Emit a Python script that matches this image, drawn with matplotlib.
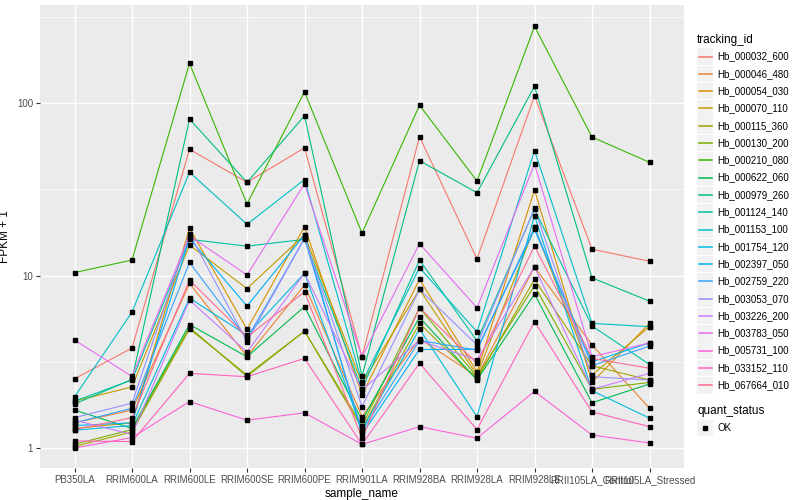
import matplotlib
matplotlib.use("Agg")
import matplotlib.pyplot as plt
from matplotlib.lines import Line2D
from matplotlib.patches import Rectangle
import numpy as np

plt.rcParams['font.family'] = ['Liberation Sans', 'DejaVu Sans']

samples = ["PB350LA", "RRIM600LA", "RRIM600LE", "RRIM600SE", "RRIM600PE",
           "RRIM901LA", "RRIM928BA", "RRIM928LA", "RRIM928LE",
           "RRII105LA_Control", "RRII105LA_Stressed"]

tracking_ids = ["Hb_000032_600", "Hb_000046_480", "Hb_000054_030", "Hb_000070_110",
                "Hb_000115_360", "Hb_000130_200", "Hb_000210_080", "Hb_000622_060",
                "Hb_000979_260", "Hb_001124_140", "Hb_001153_100", "Hb_001754_120",
                "Hb_002397_050", "Hb_002759_220", "Hb_003053_070", "Hb_003226_200",
                "Hb_003783_050", "Hb_005731_100", "Hb_033152_110", "Hb_067664_010"]

colors = ["#F8766D", "#EA8331", "#D89000", "#C09B00", "#A3A500", "#7CAE00",
          "#39B600", "#00BB4E", "#00BF7D", "#00C1A3", "#00BFC4", "#00BAE0",
          "#00B0F6", "#35A2FF", "#9590FF", "#C77CFF", "#E76BF3", "#FA62DB",
          "#FF62BC", "#FF6C91"]

# FPKM + 1, one row per tracking_id, one column per sample
fpkm = [
    [2.52, 3.8, 53.9, 34.7, 55.0, 3.38, 63.8, 12.5, 110, 14.2, 12.1],
    [1.40, 1.66, 9.0, 3.40, 8.8, 1.52, 4.3, 2.60, 11.2, 3.96, 1.70],
    [1.30, 1.40, 18.8, 4.88, 19.2, 2.03, 9.5, 2.77, 31.4, 2.40, 5.28],
    [1.87, 2.26, 15.0, 8.40, 17.2, 2.37, 8.3, 2.65, 19.0, 2.65, 5.05],
    [1.02, 1.24, 4.9, 2.65, 4.76, 1.30, 5.28, 2.50, 9.5, 3.00, 2.48],
    [1.05, 1.28, 5.0, 2.60, 4.76, 1.35, 6.5, 2.59, 8.73, 2.19, 2.40],
    [10.4, 12.3, 170, 26.0, 116, 17.6, 97, 35.3, 278, 63.5, 45.3],
    [1.66, 1.30, 5.2, 3.38, 6.6, 1.45, 5.72, 2.48, 7.8, 1.83, 2.35],
    [1.80, 2.50, 80.7, 34.7, 84.4, 2.61, 46.3, 30.2, 125, 9.7, 7.1],
    [1.87, 2.48, 16.2, 14.8, 16.2, 2.20, 12.3, 4.18, 24.2, 5.10, 3.05],
    [1.98, 6.14, 39.7, 19.8, 36.0, 2.40, 11.1, 4.72, 53.0, 5.28, 5.05],
    [1.27, 1.35, 7.4, 4.50, 10.3, 1.28, 4.89, 1.52, 22.2, 2.15, 1.49],
    [1.35, 1.40, 16.4, 6.65, 17.2, 1.20, 3.73, 3.73, 18.5, 3.16, 4.07],
    [1.40, 1.70, 11.9, 4.30, 16.4, 1.25, 4.2, 3.70, 19.0, 3.00, 3.90],
    [1.50, 1.82, 17.5, 4.14, 16.4, 1.74, 8.3, 3.96, 24.5, 2.59, 2.48],
    [1.45, 1.20, 7.2, 3.60, 10.3, 2.17, 4.2, 3.24, 11.2, 2.19, 2.71],
    [4.23, 2.60, 17.0, 10.07, 34.0, 3.38, 15.3, 6.5, 44.3, 3.38, 4.07],
    [1.00, 1.15, 1.86, 1.45, 1.60, 1.05, 1.33, 1.14, 2.13, 1.19, 1.07],
    [1.10, 1.09, 2.71, 2.59, 3.31, 1.05, 3.1, 1.28, 5.4, 1.62, 1.33],
    [1.28, 1.50, 9.4, 4.40, 8.05, 1.14, 6.5, 3.10, 14.8, 3.31, 2.90],
]

fig = plt.figure(figsize=(8, 5), dpi=100)
ax = fig.add_axes([40/800, 32/500, 644/800, 463/500])
ax.set_facecolor("#EBEBEB")

x = np.arange(len(samples))
for vals, c in zip(fpkm, colors):
    ax.plot(x, vals, color=c, lw=0.8, zorder=3)
for vals in fpkm:
    ax.plot(x, vals, ls="none", marker="s", ms=2.5, color="black", zorder=4)

ax.set_yscale("log")
ax.set_ylim(0.766, 370)
ax.set_xlim(-0.6, len(samples) - 0.4)
ax.set_yticks([1, 10, 100])
ax.set_yticklabels(["1", "10", "100"])
ax.set_yticks([10**0.5, 10**1.5, 10**2.5], minor=True)
ax.yaxis.set_minor_formatter(plt.NullFormatter())
ax.set_xticks(x)
ax.set_xticklabels(samples)

ax.grid(which="major", color="white", lw=1.0, zorder=0)
ax.grid(which="minor", axis="y", color="white", lw=0.5, zorder=0)
ax.set_axisbelow(True)
for s in ax.spines.values():
    s.set_visible(False)
ax.tick_params(which="major", length=3, color="#333333", labelsize=7,
               labelcolor="#4D4D4D", pad=2)
ax.tick_params(which="minor", length=0)

ax.set_xlabel("sample_name", fontsize=8.5, labelpad=2)
ax.set_ylabel("FPKM + 1", fontsize=8.5, labelpad=4)

# legend drawn by hand, ggplot style
def fx(px):
    return px / 800

def fy(py):
    return 1 - py / 500

fig.text(fx(697), fy(40), "tracking_id", fontsize=8.5, va="center", ha="left")
for i, (tid, c) in enumerate(zip(tracking_ids, colors)):
    yc = 56.5 + i * 17.3
    fig.add_artist(Rectangle((fx(697), fy(yc + 8.3)), 16/800, 16.6/500,
                             facecolor="#F2F2F2", edgecolor="none", zorder=1,
                             transform=fig.transFigure))
    fig.add_artist(Line2D([fx(698.5), fx(711.5)], [fy(yc), fy(yc)], color=c,
                          lw=1.1, zorder=2, transform=fig.transFigure))
    fig.text(fx(717), fy(yc), tid, fontsize=7, va="center", ha="left")

fig.text(fx(697), fy(411), "quant_status", fontsize=8.5, va="center", ha="left")
yc = 428
fig.add_artist(Rectangle((fx(697), fy(yc + 8.3)), 16/800, 16.6/500,
                         facecolor="#F2F2F2", edgecolor="none", zorder=1,
                         transform=fig.transFigure))
fig.add_artist(Line2D([fx(705)], [fy(yc)], ls="none", marker="s", ms=2.5,
                      color="black", zorder=2, transform=fig.transFigure))
fig.text(fx(717), fy(yc), "OK", fontsize=7, va="center", ha="left")

fig.savefig("out.png", dpi=100)
